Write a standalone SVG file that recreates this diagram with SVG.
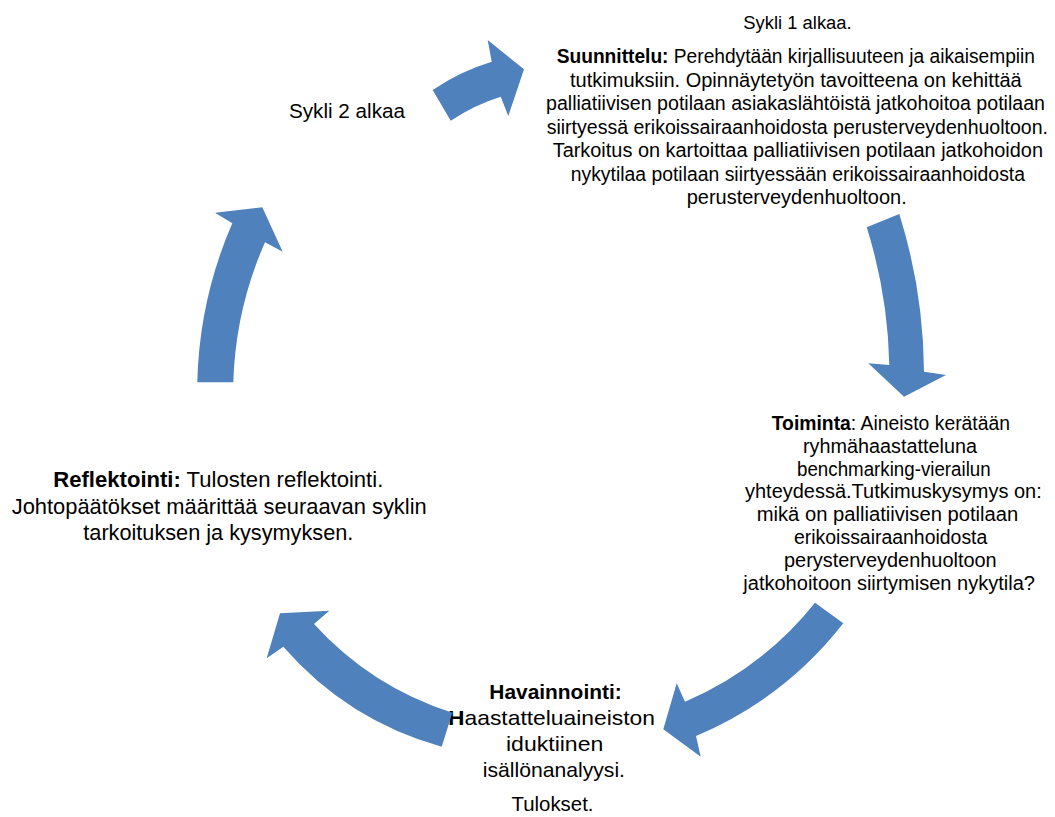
<svg xmlns="http://www.w3.org/2000/svg" width="1055" height="817" viewBox="0 0 1055 817">
  <style>
    text { font-family: "Liberation Sans", Arial, sans-serif; fill: #000; }
    .b { font-weight: bold; }
    .arrow { fill: #4F81BD; stroke: none; }
  </style>
  <rect width="1055" height="817" fill="#fff"/>

  <!-- Cycle 1 start label -->
  <g id="sykli1">
    <text x="743.3" y="29" font-size="18" textLength="108.4" lengthAdjust="spacingAndGlyphs">Sykli 1 alkaa.</text>
  </g>

  <!-- Planning phase -->
  <g id="suunnittelu" font-size="19.5">
    <text x="556.7" y="63" textLength="478.3" lengthAdjust="spacingAndGlyphs"><tspan class="b">Suunnittelu:</tspan> Perehdytään kirjallisuuteen ja aikaisempiin</text>
    <text x="570" y="86.5" textLength="451.7" lengthAdjust="spacingAndGlyphs">tutkimuksiin. Opinnäytetyön tavoitteena on kehittää</text>
    <text x="546" y="110" textLength="499" lengthAdjust="spacingAndGlyphs">palliatiivisen potilaan asiakaslähtöistä jatkohoitoa potilaan</text>
    <text x="546.7" y="133.5" textLength="501.3" lengthAdjust="spacingAndGlyphs">siirtyessä erikoissairaanhoidosta perusterveydenhuoltoon.</text>
    <text x="552.7" y="157" textLength="490.3" lengthAdjust="spacingAndGlyphs">Tarkoitus on kartoittaa palliatiivisen potilaan jatkohoidon</text>
    <text x="570.7" y="180.5" textLength="454.3" lengthAdjust="spacingAndGlyphs">nykytilaa potilaan siirtyessään erikoissairaanhoidosta</text>
    <text x="686.7" y="204" textLength="220" lengthAdjust="spacingAndGlyphs">perusterveydenhuoltoon.</text>
  </g>

  <!-- Action phase -->
  <g id="toiminta" font-size="20">
    <text x="771.7" y="430" textLength="238.3" lengthAdjust="spacingAndGlyphs"><tspan class="b">Toiminta</tspan>: Aineisto kerätään</text>
    <text x="803" y="452.8" textLength="174" lengthAdjust="spacingAndGlyphs">ryhmähaastatteluna</text>
    <text x="797" y="475.6" textLength="193.7" lengthAdjust="spacingAndGlyphs">benchmarking-vierailun</text>
    <text x="745" y="498.4" textLength="296.7" lengthAdjust="spacingAndGlyphs">yhteydessä.Tutkimuskysymys on:</text>
    <text x="756.7" y="521.2" textLength="261.6" lengthAdjust="spacingAndGlyphs">mikä on palliatiivisen potilaan</text>
    <text x="794" y="544" textLength="193.3" lengthAdjust="spacingAndGlyphs">erikoissairaanhoidosta</text>
    <text x="784" y="566.8" textLength="212.7" lengthAdjust="spacingAndGlyphs">perysterveydenhuoltoon</text>
    <text x="743.3" y="589.6" textLength="291.7" lengthAdjust="spacingAndGlyphs">jatkohoitoon siirtymisen nykytila?</text>
  </g>

  <!-- Observation phase -->
  <g id="havainnointi" font-size="21">
    <text x="489.3" y="699" class="b" textLength="132.4" lengthAdjust="spacingAndGlyphs">Havainnointi:</text>
    <text x="448" y="725" textLength="207" lengthAdjust="spacingAndGlyphs"><tspan class="b">H</tspan>aastatteluaineiston</text>
    <text x="506" y="751" textLength="97.3" lengthAdjust="spacingAndGlyphs">iduktiinen</text>
    <text x="482.7" y="777" textLength="142.3" lengthAdjust="spacingAndGlyphs">isällönanalyysi.</text>
  </g>

  <!-- Results label -->
  <g id="tulokset">
    <text x="511.5" y="811" font-size="20.5" textLength="82" lengthAdjust="spacingAndGlyphs">Tulokset.</text>
  </g>

  <!-- Reflection phase -->
  <g id="reflektointi" font-size="22">
    <text x="53.3" y="487" textLength="330" lengthAdjust="spacingAndGlyphs"><tspan class="b">Reflektointi:</tspan> Tulosten reflektointi.</text>
    <text x="11.7" y="513.5" textLength="415" lengthAdjust="spacingAndGlyphs">Johtopäätökset määrittää seuraavan syklin</text>
    <text x="83.3" y="539.5" textLength="270" lengthAdjust="spacingAndGlyphs">tarkoituksen ja kysymyksen.</text>
  </g>

  <!-- Cycle 2 start label -->
  <g id="sykli2">
    <text x="289" y="118" font-size="20.5" textLength="116" lengthAdjust="spacingAndGlyphs">Sykli 2 alkaa</text>
  </g>

  <!-- Curved block arrows linking the phases clockwise -->
  <g id="connectors">
    <path class="arrow" d="M432.7,90 Q460,71.3 491.7,61.7 L487.7,40 L524,69.3 L508.3,116 L500.7,96.7 Q474,105.1 450.7,120.7 Z"/>
    <path class="arrow" d="M866.7,227.3 L899.3,214 Q923.5,291 924,371.7 L946,375 L904,396.7 L868.3,363.3 L889.3,365 Q887.9,294.5 866.7,227.3 Z"/>
    <path class="arrow" d="M815,602.7 L843.3,623.3 Q784.3,698.8 696,736 L700.7,756.7 L663.3,729.3 L676.7,683.3 L685,701.7 Q762.4,668.5 815,602.7 Z"/>
    <path class="arrow" d="M452.3,712.7 L441.7,746.7 Q347.5,720.4 283.3,646.7 L266.7,658.3 L280,613.3 L329.3,610.7 L314,624 Q371.3,686.9 452.3,712.7 Z"/>
    <path class="arrow" d="M197.3,382.3 L233.3,382.3 Q235.5,309.2 265,242.3 L282.7,251.7 L262.3,207.3 L215,212.7 L232.3,223.3 Q199.2,299.4 197.3,382.3 Z"/>
  </g>
</svg>
